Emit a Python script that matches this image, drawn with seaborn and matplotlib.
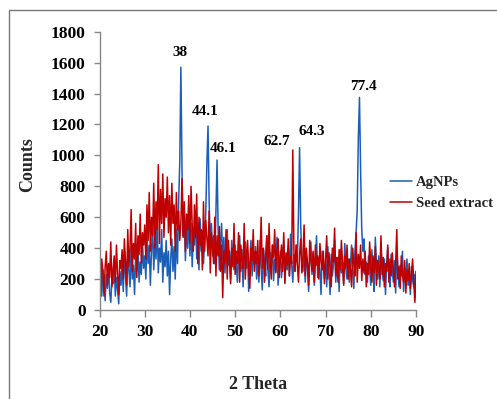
import numpy as np
import pandas as pd
import matplotlib
matplotlib.use("Agg")
import matplotlib.pyplot as plt
import seaborn as sns
from matplotlib.patches import Rectangle

# ---- data (0.25 deg steps from 20 to 90) ----
two_theta = [20 + 0.25 * i for i in range(281)]

agnps = [
    150, 320, 90, 260, 180, 60, 230, 140, 300, 110, 50, 200, 170, 280, 90, 210, 130, 40, 250, 160,
    300, 120, 380, 220, 90, 340, 260, 150, 410, 200, 290, 100, 360, 250, 420, 180, 310, 230, 450, 270,
    350, 200, 480, 300, 420, 160, 380, 540, 260, 460, 330, 600, 240, 400, 310, 520, 180, 370, 280, 450,
    220, 380, 100, 330, 460, 250, 410, 200, 520, 300, 700, 950, 1570, 900, 480, 600, 320, 550, 400, 620,
    350, 560, 280, 500, 420, 640, 330, 480, 260, 590, 380, 510, 300, 450, 620, 950, 1190, 700, 420, 560,
    350, 480, 300, 620, 970, 500, 260, 430, 560, 320, 470, 240, 400, 520, 290, 380, 200, 450, 330, 260,
    420, 300, 180, 360, 480, 250, 390, 150, 330, 440, 270, 360, 120, 310, 450, 220, 380, 290, 410, 200,
    340, 180, 450, 270, 130, 390, 310, 220, 480, 260, 150, 370, 300, 420, 190, 330, 250, 470, 160, 300,
    380, 210, 310, 450, 170, 340, 260, 400, 220, 490, 300, 180, 360, 250, 420, 310, 620, 1050, 550, 330,
    250, 400, 180, 350, 290, 120, 310, 440, 230, 370, 160, 300, 480, 210, 340, 260, 100, 380, 290, 200,
    320, 150, 410, 250, 100, 360, 220, 300, 450, 180, 280, 340, 120, 390, 240, 310, 170, 430, 260, 200,
    330, 180, 290, 420, 250, 140, 380, 500, 650, 1120, 1375, 900, 520, 380, 460, 230, 310, 180, 350, 270,
    160, 390, 240, 120, 470, 300, 200, 350, 150, 420, 260, 190, 330, 100, 290, 400, 220, 150, 360, 250,
    180, 320, 110, 400, 260, 150, 290, 220, 380, 120, 270, 200, 330, 160, 240, 100, 280, 190, 150, 230,
    80,
]

seed_extract = [
    200, 120, 330, 250, 90, 280, 380, 160, 300, 210, 440, 150, 260, 350, 180, 420, 230, 100, 320, 270,
    390, 200, 460, 310, 160, 520, 280, 400, 650, 250, 430, 330, 560, 210, 480, 360, 620, 300, 500, 420,
    550, 330, 680, 450, 760, 380, 600, 480, 820, 400, 700, 520, 940, 430, 780, 560, 880, 470, 720, 600,
    860, 500, 740, 420, 820, 560, 680, 380, 760, 520, 640, 450, 560, 850, 470, 700, 380, 620, 520, 740,
    430, 800, 550, 380, 680, 470, 750, 300, 600, 420, 520, 260, 700, 380, 580, 460, 350, 640, 240, 500,
    400, 300, 600, 220, 480, 350, 540, 250, 420, 80, 380, 300, 520, 200, 450, 330, 170, 400, 280, 560,
    230, 380, 300, 500, 180, 420, 330, 270, 560, 200, 360, 450, 280, 140, 400, 320, 520, 250, 380, 300,
    450, 220, 340, 600, 270, 400, 180, 350, 480, 260, 560, 300, 200, 420, 340, 520, 240, 380, 460, 210,
    330, 420, 250, 500, 180, 370, 290, 460, 220, 350, 300, 1035, 380, 250, 420, 300, 180, 360, 460, 240,
    340, 550, 220, 400, 300, 160, 450, 330, 250, 380, 180, 420, 290, 350, 200, 430, 310, 260, 380, 170,
    320, 480, 200, 370, 280, 150, 400, 310, 530, 220, 340, 180, 390, 260, 450, 300, 160, 350, 270, 420,
    200, 330, 260, 150, 400, 300, 220, 500, 180, 360, 270, 420, 190, 330, 240, 380, 150, 300, 230, 440,
    280, 180, 350, 240, 410, 160, 320, 270, 200, 480, 230, 340, 150, 300, 250, 420, 180, 330, 220, 370,
    260, 150, 300, 520, 200, 280, 140, 350, 230, 180, 320, 110, 260, 190, 300, 140, 230, 330, 180, 50,
    250,
]

series_names = ["AgNPs", "Seed extract"]
peak_labels = ["38", "44.1", "46.1", "62.7", "64.3", "77.4"]
peak_label_x = [37.8, 43.3, 47.3, 59.2, 66.9, 78.4]
peak_label_y = [1663, 1281, 1042, 1087, 1152, 1443]
x_ticks = [20, 30, 40, 50, 60, 70, 80, 90]
y_ticks = [0, 200, 400, 600, 800, 1000, 1200, 1400, 1600, 1800]

df = pd.DataFrame({
    "2 Theta": two_theta * 2,
    "Counts": agnps + seed_extract,
    "series": [series_names[0]] * len(two_theta) + [series_names[1]] * len(two_theta),
})

sns.set_style("ticks")
plt.rcParams["font.family"] = ["Liberation Serif", "DejaVu Serif"]
plt.rcParams["font.weight"] = "bold"

fig = plt.figure(figsize=(4.97, 3.99), dpi=100)
W, H = 497, 399
ax = fig.add_axes([99.5 / W, 1 - 310 / H, (416 - 99.5) / W, (310 - 31.7) / H])

palette = {series_names[0]: "#1a5eb8", series_names[1]: "#c00000"}
sns.lineplot(data=df, x="2 Theta", y="Counts", hue="series", palette=palette,
             estimator=None, sort=False, linewidth=1.1, ax=ax)

ax.set_xlim(20, 90)
ax.set_ylim(0, 1800)
ax.set_xticks(x_ticks)
ax.set_yticks(y_ticks)
ax.tick_params(axis="both", colors="#888888", labelcolor="black", labelsize=12.5,
               direction="out", width=1.0)
ax.tick_params(axis="x", length=5, pad=5)
ax.tick_params(axis="y", length=4, pad=6)
for lab in ax.get_xticklabels() + ax.get_yticklabels():
    lab.set_fontweight("bold")
for s in ["top", "right"]:
    ax.spines[s].set_visible(False)
for s in ["left", "bottom"]:
    ax.spines[s].set_color("#888888")
    ax.spines[s].set_linewidth(1.0)

ax.set_xlabel("2 Theta", fontsize=13, fontweight="bold")
ax.set_ylabel("Counts", fontsize=13, fontweight="bold")
ax.xaxis.set_label_coords(0.5, -(376 - 310) / 278.3)
ax.yaxis.set_label_coords(-(99.5 - 36) / 316.5, (310 - 165) / 278.3)

for t, xx, yy in zip(peak_labels, peak_label_x, peak_label_y):
    ax.text(xx, yy, t, ha="center", va="center", fontsize=11, fontweight="bold", color="black")

handles, labels = ax.get_legend_handles_labels()
leg = ax.legend(handles, labels, loc="center left", bbox_to_anchor=(390 / W, 1 - 193 / H),
                bbox_transform=fig.transFigure, frameon=False, fontsize=10.5,
                handlelength=1.5, handletextpad=0.3, labelspacing=0.55, borderaxespad=0,
                borderpad=0)
for t in leg.get_texts():
    t.set_fontweight("bold")

fig.patches.append(Rectangle((9 / W, -1), 2, 1 + (1 - 10 / H), transform=fig.transFigure,
                             fill=False, edgecolor="#777777", linewidth=1.0))

fig.savefig("out.png", dpi=100)
